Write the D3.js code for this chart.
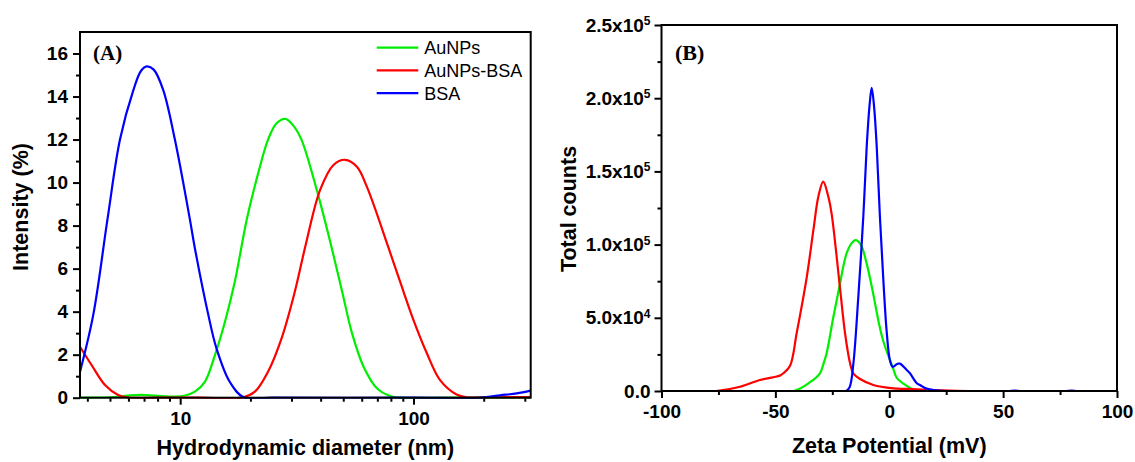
<!DOCTYPE html>
<html>
<head>
<meta charset="utf-8">
<script src="https://cdn.jsdelivr.net/npm/d3@7"></script>
<style>
  body { margin: 0; background: #fff; }
  svg text { font-family: "Liberation Sans", Arial, sans-serif; }
</style>
</head>
<body>
<svg id="chart" width="1135" height="462"></svg>
<script>
// ---- (A) DLS size distribution: [diameter (nm), intensity (%)] ----
const dlsAuNPs = [
  [3.72, 0], [5.0, 0.02], [6.0, 0.1], [6.8, 0.13], [7.8, 0.1], [9.5, 0.05], [10.5, 0.1],
  [11.56, 0.28], [12.76, 0.74], [14.1, 1.99], [15.56, 3.53], [17.15, 5.4], [19.3, 8.3],
  [21.6, 10.44], [23.8, 12.0], [25.9, 12.76], [28.3, 12.96], [30.9, 12.58], [33.1, 12.0],
  [38.5, 9.66], [44.3, 7.1], [49.3, 5.0], [54.5, 3.0], [61.1, 1.44], [69.7, 0.44],
  [79.4, 0.08], [88, 0], [150, 0], [318, 0]
];
const dlsAuNPsBSA = [
  [3.72, 2.37], [4.17, 1.52], [4.76, 0.59], [5.42, 0.13], [6.0, 0.01], [8, 0], [12, 0],
  [18.3, 0], [20.9, 0.28], [23.8, 1.21], [27.2, 2.76], [31.0, 4.93], [34.5, 7.1],
  [39.8, 9.66], [45.4, 10.82], [50.9, 11.06], [57.2, 10.74], [63.1, 9.81], [78.2, 6.96],
  [87.7, 5.38], [100, 3.61], [114, 2.08], [130, 0.82], [153, 0.15], [169, 0.02],
  [220, 0.02], [318, 0.03]
];
const dlsBSA = [
  [3.72, 1.2], [4.24, 3.85], [4.88, 8.3], [5.52, 12.0], [6.3, 14.3], [6.8, 15.2],
  [7.2, 15.4], [7.7, 15.25], [8.46, 14.3], [9.49, 12.0], [11.0, 8.3], [11.56, 6.95],
  [13.2, 3.85], [14.3, 2.3], [16.3, 0.74], [18.7, 0.02], [25, 0], [100, 0], [193, 0],
  [235, 0.11], [277, 0.2], [318, 0.33]
];

// ---- (B) Zeta potential distribution: [potential (mV), total counts] ----
const zetaAuNPs = [
  [-100, 0], [-60, 0], [-42, 0], [-34.8, 6000], [-30.4, 12100], [-29, 18000], [-27.5, 25800],
  [-24.6, 50000], [-21.6, 73600], [-20.2, 84900], [-18.7, 94100], [-16.5, 101000],
  [-14.8, 103000], [-12.5, 100000], [-9.9, 87000], [-7, 66000], [-4.5, 46000],
  [-2.6, 34000], [1.8, 15000], [3.3, 9000], [7.7, 3500], [10.6, 1000], [14, 0],
  [40, 0], [100, 0]
];
const zetaAuNPsBSA = [
  [-100, 0], [-90, 0], [-76, 0], [-65.5, 2900], [-56.8, 7500], [-50.9, 9400], [-48, 10500],
  [-46.5, 12100], [-43.6, 17000], [-40.6, 40000], [-36.2, 78000], [-33.3, 110000],
  [-31.1, 133000], [-29, 143000], [-26.8, 133000], [-25.3, 121000], [-21.6, 70000],
  [-19.4, 39400], [-17.2, 18900], [-15.8, 12100], [-12.8, 8200], [-7, 4100],
  [1.8, 1800], [7.7, 1400], [22.3, 500], [35, 0], [60, 0], [100, 0]
];
const zetaBSA = [
  [-100, 0], [-40, 0], [-19, 0], [-17.4, 2600], [-15.8, 18000], [-13.6, 64000], [-11.4, 119000],
  [-9.9, 167000], [-8.6, 196000], [-7.7, 207000], [-6.7, 195000], [-5.5, 167000],
  [-4.1, 119000], [-2.6, 76000], [-1.1, 40000], [0.3, 21000], [1.5, 16500],
  [3.5, 18500], [4.7, 18700], [7.7, 14300], [9.1, 12100], [12.1, 5300], [13.5, 4100],
  [16, 1800], [19.3, 700], [25, 0], [52, 0], [55, 250], [58, 0], [77, 0], [80, 250],
  [83, 0], [100, 0]
];

const seriesNames = ["AuNPs", "AuNPs-BSA", "BSA"];

// ---- tick values ----
const dlsMajorTicks = [10, 100];
const dlsMinorTicks = [4, 5, 6, 7, 8, 9, 20, 30, 40, 50, 60, 70, 80, 90, 200, 300];
const intensityMajorTicks = [0, 2, 4, 6, 8, 10, 12, 14, 16];
const intensityMinorTicks = [1, 3, 5, 7, 9, 11, 13, 15];
const zetaMajorTicks = [-100, -50, 0, 50, 100];
const zetaMinorTicks = [-75, -25, 25, 75];
const countMajorTicks = [0, 50000, 100000, 150000, 200000, 250000];
const countMinorTicks = [25000, 75000, 125000, 175000, 225000];

const colors = { "AuNPs": "#00ee00", "AuNPs-BSA": "#ff0000", "BSA": "#0000ff" };

const svg = d3.select("#chart");
const plainNumber = d => String(d);

function styleAxis(g) {
  g.select(".domain").remove();
  g.selectAll(".tick line").attr("stroke", "#000").attr("stroke-width", 2);
  g.selectAll(".tick text")
    .attr("font-size", 19).attr("font-weight", "bold").attr("fill", "#000");
}

function frame(x0, y0, x1, y1) {
  svg.append("rect")
    .attr("x", x0).attr("y", y0).attr("width", x1 - x0).attr("height", y1 - y0)
    .attr("fill", "none").attr("stroke", "#000").attr("stroke-width", 2);
}

function clip(id, x0, y0, x1, y1) {
  svg.append("clipPath").attr("id", id).append("rect")
    .attr("x", x0).attr("y", y0).attr("width", x1 - x0).attr("height", y1 - y0 + 1);
}

const smooth = d3.curveCatmullRom.alpha(0.5);

// ================= Panel A =================
const A = { left: 80, right: 530.7, top: 32, bottom: 397.7 };
const xA = d3.scaleLog().domain([3.72, 318]).range([A.left, A.right]);
const yA = d3.scaleLinear().domain([0, 17]).range([A.bottom, A.top]);

svg.append("g").attr("transform", `translate(0,${A.bottom})`)
  .call(d3.axisBottom(xA).tickValues(dlsMinorTicks).tickSize(4).tickFormat(""))
  .call(styleAxis);
svg.append("g").attr("transform", `translate(0,${A.bottom})`)
  .call(d3.axisBottom(xA).tickValues(dlsMajorTicks).tickSize(7).tickPadding(7).tickFormat(plainNumber))
  .call(styleAxis);
svg.append("g").attr("transform", `translate(${A.left},0)`)
  .call(d3.axisLeft(yA).tickValues(intensityMinorTicks).tickSize(4).tickFormat(""))
  .call(styleAxis);
svg.append("g").attr("transform", `translate(${A.left},0)`)
  .call(d3.axisLeft(yA).tickValues(intensityMajorTicks).tickSize(7).tickPadding(5).tickFormat(plainNumber))
  .call(styleAxis);

clip("clipA", A.left, A.top, A.right, A.bottom);
const lineA = d3.line().x(d => xA(d[0])).y(d => yA(Math.max(0, d[1]))).curve(smooth);
const gA = svg.append("g").attr("clip-path", "url(#clipA)");
[["AuNPs", dlsAuNPs], ["AuNPs-BSA", dlsAuNPsBSA], ["BSA", dlsBSA]].forEach(([name, data]) => {
  gA.append("path").datum(data).attr("d", lineA)
    .attr("fill", "none").attr("stroke", colors[name]).attr("stroke-width", 2.2)
    .attr("stroke-linejoin", "round");
});
frame(A.left, A.top, A.right, A.bottom);

// legend
const legend = svg.append("g").attr("transform", "translate(376.7,47.7)");
seriesNames.forEach((name, i) => {
  const row = legend.append("g").attr("transform", `translate(0,${i * 22.7})`);
  row.append("line").attr("x1", 0).attr("x2", 41.6).attr("y1", 0).attr("y2", 0)
    .attr("stroke", colors[name]).attr("stroke-width", 2.2);
  row.append("text").attr("x", 47.5).attr("y", 0).attr("dy", "0.36em")
    .attr("font-size", 18).attr("fill", "#000").text(name);
});

svg.append("text").attr("x", 93).attr("y", 59.5)
  .style("font-family", "'Liberation Serif','Times New Roman',serif")
  .attr("font-size", 21).attr("font-weight", "bold").text("(A)");

svg.append("text")
  .attr("transform", `translate(28,207) rotate(-90)`)
  .attr("text-anchor", "middle").attr("font-size", 21.5).attr("font-weight", "bold")
  .text("Intensity (%)");
svg.append("text")
  .attr("x", (A.left + A.right) / 2).attr("y", 455)
  .attr("text-anchor", "middle").attr("font-size", 21.5).attr("font-weight", "bold")
  .text("Hydrodynamic diameter (nm)");

// ================= Panel B =================
const B = { left: 661.5, right: 1117, top: 25, bottom: 391 };
const xB = d3.scaleLinear().domain([-100, 100]).range([B.left, B.right]);
const yB = d3.scaleLinear().domain([0, 250000]).range([B.bottom, B.top]);

svg.append("g").attr("transform", `translate(0,${B.bottom})`)
  .call(d3.axisBottom(xB).tickValues(zetaMinorTicks).tickSize(4).tickFormat(""))
  .call(styleAxis);
svg.append("g").attr("transform", `translate(0,${B.bottom})`)
  .call(d3.axisBottom(xB).tickValues(zetaMajorTicks).tickSize(7).tickPadding(7).tickFormat(plainNumber))
  .call(styleAxis);
svg.append("g").attr("transform", `translate(${B.left},0)`)
  .call(d3.axisLeft(yB).tickValues(countMinorTicks).tickSize(4).tickFormat(""))
  .call(styleAxis);
const yAxisB = svg.append("g").attr("transform", `translate(${B.left},0)`)
  .call(d3.axisLeft(yB).tickValues(countMajorTicks).tickSize(7).tickPadding(4))
  .call(styleAxis);
// scientific labels with superscript exponent
yAxisB.selectAll(".tick text").each(function (d) {
  const t = d3.select(this);
  t.text(null);
  if (d === 0) { t.text("0.0"); return; }
  const exp = Math.floor(Math.log10(d));
  const mant = (d / Math.pow(10, exp)).toFixed(1);
  t.append("tspan").text(mant + "x10");
  t.append("tspan").attr("dy", "-0.55em").attr("font-size", 12).text(exp);
});

clip("clipB", B.left, B.top, B.right, B.bottom);
const lineB = d3.line().x(d => xB(d[0])).y(d => yB(Math.max(0, d[1]))).curve(smooth);
const gB = svg.append("g").attr("clip-path", "url(#clipB)");
[["AuNPs", zetaAuNPs], ["AuNPs-BSA", zetaAuNPsBSA], ["BSA", zetaBSA]].forEach(([name, data]) => {
  gB.append("path").datum(data).attr("d", lineB)
    .attr("fill", "none").attr("stroke", colors[name]).attr("stroke-width", 2.2)
    .attr("stroke-linejoin", "round");
});
frame(B.left, B.top, B.right, B.bottom);

svg.append("text").attr("x", 675).attr("y", 59.5)
  .style("font-family", "'Liberation Serif','Times New Roman',serif")
  .attr("font-size", 22).attr("font-weight", "bold").text("(B)");

svg.append("text")
  .attr("transform", `translate(576,209) rotate(-90)`)
  .attr("text-anchor", "middle").attr("font-size", 21.5).attr("font-weight", "bold")
  .text("Total counts");
svg.append("text")
  .attr("x", (B.left + B.right) / 2).attr("y", 453)
  .attr("text-anchor", "middle").attr("font-size", 21.5).attr("font-weight", "bold")
  .text("Zeta Potential (mV)");
</script>
</body>
</html>
